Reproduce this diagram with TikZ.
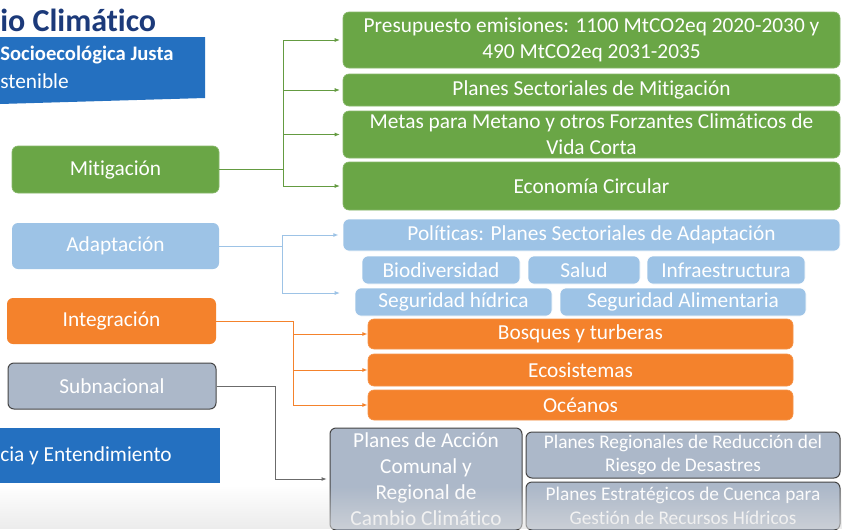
\documentclass[tikz,border=0pt]{standalone}
\usepackage{fontspec}
\setmainfont{Carlito}[Ligatures=NoCommon]
\usetikzlibrary{arrows.meta,fadings}
\definecolor{mitgreen}{RGB}{106,166,70}
\definecolor{mitline}{RGB}{100,155,65}
\definecolor{adablue}{RGB}{157,195,230}
\definecolor{intorange}{RGB}{244,130,44}
\definecolor{subgray}{RGB}{172,184,201}
\definecolor{subedge}{RGB}{70,70,70}
\definecolor{banblue}{RGB}{36,112,192}
\definecolor{titnavy}{RGB}{28,58,122}
\def\boxfont{\fontsize{16}{19.5}\selectfont}
\def\smallboxfont{\fontsize{14.5}{17.5}\selectfont}

\begin{document}
\begin{tikzpicture}[x=0.75pt,y=0.75pt,yscale=-1,xscale=1,
	box/.style={rounded corners=4.5pt,inner sep=0pt,align=center,text=white,font=\boxfont},
	mitbox/.style={box,fill=mitgreen,draw=mitgreen!80!white,line width=0.5pt},
	adabox/.style={box,fill=adablue,draw=white,line width=0.5pt},
	intbox/.style={box,fill=intorange,draw=intorange!85!white,line width=0.5pt},
	subbox/.style={box,fill=subgray,draw=subedge,line width=0.75pt},
	link/.style={line width=0.75pt,-{Latex[length=4pt,width=3pt]}},
	stem/.style={line width=0.75pt}]
		\useasboundingbox (0,0) rectangle (843,529);
		\fill[white] (0,0) rectangle (843,529);
		\draw (0,20) node [anchor=west,inner sep=0pt,text=titnavy,font=\fontsize{24}{28}\selectfont\bfseries] (tit) {io Climático};
		\fill[banblue] (0,37) -- (205,37) -- (205,98) -- (0,104) -- cycle;
		\draw (0,55) node [anchor=west,inner sep=0pt,text=white,font=\fontsize{15.5}{18}\selectfont\bfseries] (jus) {Socioecológica Justa};
		\draw (0,81) node [anchor=west,inner sep=0pt,text=white,font=\boxfont] (sos) {stenible};
		\fill[banblue] (0,428) rectangle (220,483);
		\draw (0,456) node [anchor=west,inner sep=0pt,text=white,font=\boxfont] (ent) {cia y Entendimiento};
		\draw (115.5,169.5) node [mitbox,minimum width=155.25pt,minimum height=35.25pt] (mit) {Mitigación};
		\draw (115.5,246) node [box,fill=adablue,minimum width=155.25pt,minimum height=34.5pt] (ada) {Adaptación};
		\draw (111.5,321) node [box,fill=intorange,minimum width=156.75pt,minimum height=34.5pt] (int) {Integración};
		\draw (112,386) node [subbox,minimum width=156pt,minimum height=34.5pt] (sub) {Subnacional};
		\draw (591.5,40) node [mitbox,minimum width=372.75pt,minimum height=42pt] (pre) {Presupuesto emisiones: 1100 MtCO2eq 2020-2030 y\\490 MtCO2eq 2031-2035};
		\draw (591.5,90) node [mitbox,minimum width=372.75pt,minimum height=24pt] (psm) {Planes Sectoriales de Mitigación};
		\draw (591.5,134.5) node [mitbox,minimum width=372.75pt,minimum height=35.25pt] (met) {Metas para Metano y otros Forzantes Climáticos de\\Vida Corta};
		\draw (591.5,186) node [mitbox,minimum width=372.75pt,minimum height=36pt] (eco) {Economía Circular};
		\draw (591.5,235) node [adabox,minimum width=372.75pt,minimum height=24pt] (pol) {Políticas: Planes Sectoriales de Adaptación};
		\draw (441,270) node [adabox,minimum width=118.5pt,minimum height=21pt] (bio) {Biodiversidad};
		\draw (584,270) node [adabox,minimum width=84pt,minimum height=21pt] (sal) {Salud};
		\draw (726,270) node [adabox,minimum width=118.5pt,minimum height=21pt] (inf) {Infraestructura};
		\draw (453.5,302) node [adabox,minimum width=147.75pt,minimum height=21pt] (hid) {Seguridad hídrica};
		\draw (683,302) node [adabox,minimum width=184.5pt,minimum height=21pt] (ali) {Seguridad Alimentaria};
		\draw (580.5,334) node [intbox,minimum width=318.75pt,minimum height=22.5pt] (bos) {Bosques y turberas};
		\draw (580.5,370) node [intbox,minimum width=318.75pt,minimum height=24pt] (ecs) {Ecosistemas};
		\draw (580.5,405) node [intbox,minimum width=318.75pt,minimum height=22.5pt] (oce) {Océanos};
		\draw (426,479) node [subbox,minimum width=144pt,minimum height=76.5pt] (pac) {Planes de Acción\\Comunal y\\Regional de\\Cambio Climático};
		\draw (683,455) node [subbox,font=\smallboxfont,minimum width=235.5pt,minimum height=34.5pt] (prr) {Planes Regionales de Reducción del\\Riesgo de Desastres};
		\draw (683,506) node [subbox,font=\smallboxfont,minimum width=235.5pt,minimum height=36pt] (pec) {Planes Estratégicos de Cuenca para\\Gestión de Recursos Hídricos};
		\coordinate (mitJ) at (283,169.5);
		\coordinate (adaJ) at (282,246);
		\coordinate (adaE) at (340,293);
		\coordinate (intJ) at (293,321);
		\coordinate (subJ) at (275,386);
		\draw [stem,mitline] (mit.east) -- (mitJ);
		\draw [link,mitline,shorten >=2pt] (mitJ) |- (pre.west);
		\draw [link,mitline,shorten >=2pt] (mitJ) |- (psm.west);
		\draw [link,mitline,shorten >=2pt] (mitJ) |- (met.west);
		\draw [link,mitline,shorten >=2pt] (mitJ) |- (eco.west);
		\draw [stem,adablue] (ada.east) -- (adaJ);
		\draw [link,adablue,shorten >=3pt] (adaJ) |- (pol.west);
		\draw [link,adablue] (adaJ) |- (adaE);
		\draw [stem,intorange] (int.east) -- (intJ);
		\draw [link,intorange] (intJ) |- (bos.west);
		\draw [link,intorange] (intJ) |- (ecs.west);
		\draw [link,intorange] (intJ) |- (oce.west);
		\draw [stem,subedge!80] (sub.east) -- (subJ);
		\draw [link,subedge!80,shorten >=2pt] (subJ) |- (pac.west);
		\fill [gray!25,opacity=0.6,path fading=north] (0,486) rectangle (843,529);
\end{tikzpicture}
\end{document}
